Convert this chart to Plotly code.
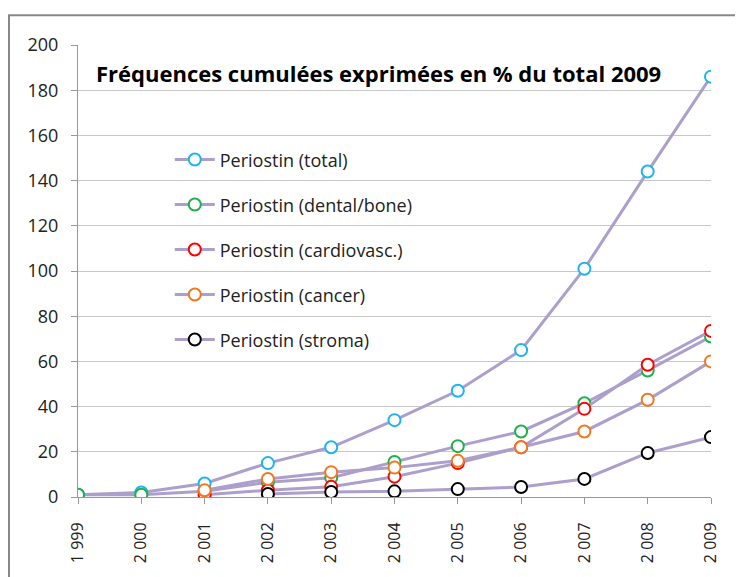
import plotly.graph_objects as go

years = [1999, 2000, 2001, 2002, 2003, 2004, 2005, 2006, 2007, 2008, 2009]
year_labels = ["1 999", "2 000", "2 001", "2 002", "2 003", "2 004", "2 005", "2 006", "2 007", "2 008", "2 009"]

total = [1, 2, 6, 15, 22, 34, 47, 65, 101, 144, 186]
dental_bone = [1, 1, 2.5, 6.5, 8.5, 15.5, 22.5, 29, 41.5, 56, 71]
cardiovasc = [None, None, 1, 3, 4.5, 9, 15, 22, 39, 58.5, 73.5]
cancer = [None, None, 3, 8, 11, 13, 16, 22, 29, 43, 60]
stroma = [None, None, None, 1.3, 2.2, 2.5, 3.5, 4.4, 8, 19.5, 26.5]

series = [
    ("Periostin (total)", total, "#1EB4EE"),
    ("Periostin (dental/bone)", dental_bone, "#1DB04B"),
    ("Periostin (cardiovasc.)", cardiovasc, "#FF0000"),
    ("Periostin (cancer)", cancer, "#F07820"),
    ("Periostin (stroma)", stroma, "#000000"),
]

LINE = "#AC9FCB"
fig = go.Figure()
for i, (name, vals, col) in enumerate(series):
    fig.add_trace(go.Scatter(
        x=years, y=vals, name=name, mode="lines+markers",
        legendgroup=str(i),
        line=dict(color=LINE, width=3),
        marker=dict(symbol="circle", size=12, color="white",
                    line=dict(color=col, width=2)),
        connectgaps=False,
    ))

fig.update_layout(
    width=743, height=577,
    margin=dict(l=70, r=40, t=37, b=88),
    paper_bgcolor="white", plot_bgcolor="white",
    font=dict(family="Open Sans, sans-serif", color="#222"),
    showlegend=True,
    legend=dict(x=0.145, y=0.787, xanchor="left", yanchor="top",
                traceorder="grouped", tracegroupgap=18.6,
                font=dict(size=18, color="#222"),
                bgcolor="rgba(0,0,0,0)", itemwidth=40),
    xaxis=dict(range=[1999, 2009], tickmode="array", tickvals=years,
               ticktext=year_labels, tickangle=-90,
               showgrid=False, showline=True, linecolor="#999", linewidth=1,
               ticks="outside", ticklen=6, tickcolor="#999",
               ticklabelstandoff=12,
               tickfont=dict(size=16, color="#222"), zeroline=False),
    yaxis=dict(range=[0, 200], tickmode="linear", dtick=20,
               showgrid=True, gridcolor="#C8C8C8", gridwidth=1,
               showline=True, linecolor="#999", linewidth=1,
               ticks="outside", ticklen=6, tickcolor="#999",
               ticklabelstandoff=9,
               tickfont=dict(size=18, color="#222"), zeroline=False),
    annotations=[dict(
        text="<b>Fréquences cumulées exprimées en % du total 2009</b>",
        xref="paper", yref="paper", x=0.025, y=0.937, xanchor="left", yanchor="middle",
        showarrow=False, font=dict(size=22, color="#000", family="Open Sans, sans-serif"))],
    shapes=[dict(type="rect", xref="paper", yref="paper",
                 x0=-0.109, x1=1.2, y0=-0.3, y1=1.066,
                 line=dict(color="#888", width=2), fillcolor="rgba(0,0,0,0)",
                 layer="below")],
)

fig.write_html("out.html")
